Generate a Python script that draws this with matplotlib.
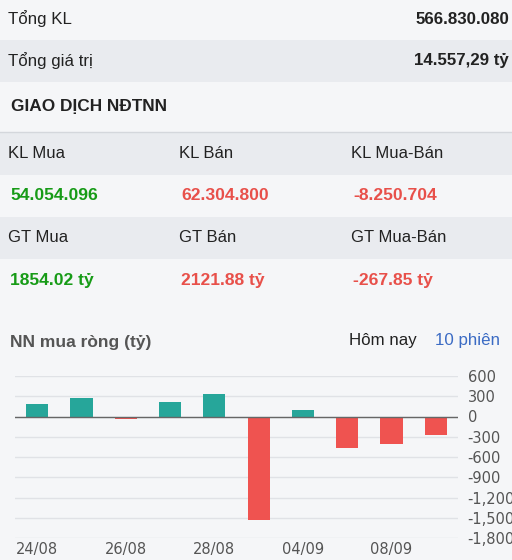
import numpy as np
import matplotlib
matplotlib.use('Agg')
import matplotlib.pyplot as plt
from matplotlib.patches import Rectangle

plt.rcParams['font.family'] = ['Liberation Sans', 'DejaVu Sans']

# Summary values.
total_labels = ['Tổng KL', 'Tổng giá trị']
total_values = ['566.830.080', '14.557,29 tỷ']

# Foreign investor table.
kl_headers = ['KL Mua', 'KL Bán', 'KL Mua-Bán']
kl_values = ['54.054.096', '62.304.800', '-8.250.704']
gt_headers = ['GT Mua', 'GT Bán', 'GT Mua-Bán']
gt_values = ['1854.02 tỷ', '2121.88 tỷ', '-267.85 tỷ']

# Net buy per session (billion VND).
sessions = ['24/08', '25/08', '26/08', '27/08', '28/08', '03/09', '04/09', '07/09', '08/09', '09/09']
net_buy = [178, 278, -40, 212, 327, -1535, 100, -465, -406, -267.85]
y_ticks = [600, 300, 0, -300, -600, -900, -1200, -1500, -1800]

W, H = 512, 560
bg = '#f5f6f8'
row_gray = '#e9ebef'
green = '#179b17'
red = '#e8504a'
dark = '#222222'

fig = plt.figure(figsize=(W / 100, H / 100), dpi=100)
fig.patch.set_facecolor(bg)

# Background layer in pixel coordinates.
base = fig.add_axes([0, 0, 1, 1])
base.set_xlim(0, W)
base.set_ylim(H, 0)
base.axis('off')

for y0, y1 in [(40, 82), (132, 175), (217, 259)]:
	base.add_patch(Rectangle((0, y0), W, y1 - y0, color=row_gray, lw=0))
base.plot([0, W], [132, 132], color='#d4d7dc', lw=1)

for i in range(len(total_labels)):
	yc = 19 + i * 42
	base.text(8, yc, total_labels[i], fontsize=12.2, color=dark, va='center')
	base.text(509, yc, total_values[i], fontsize=12.2, color=dark, va='center', ha='right', weight='bold')

base.text(11, 106, 'GIAO DỊCH NĐTNN', fontsize=12.4, color=dark, va='center', weight='bold')

col_x = [8, 179, 351]
for j in range(3):
	base.text(col_x[j], 153, kl_headers[j], fontsize=12, color=dark, va='center')
	base.text(col_x[j] + 2, 196, kl_values[j], fontsize=12.6, va='center', weight='bold',
			  color=green if j == 0 else red)
	base.text(col_x[j], 238, gt_headers[j], fontsize=12, color=dark, va='center')
	base.text(col_x[j] + 2, 281, gt_values[j], fontsize=12.6, va='center', weight='bold',
			  color=green if j == 0 else red)

base.text(10, 342, 'NN mua ròng (tỷ)', fontsize=12.5, color='#555555', va='center', weight='bold')
base.text(349, 341, 'Hôm nay', fontsize=12.2, color=dark, va='center')
base.text(435, 341, '10 phiên', fontsize=12.2, color='#3b6bc4', va='center')

# Bar chart.
top, bottom = 376, 538
ax = fig.add_axes([15 / W, (H - bottom) / H, 443 / W, (bottom - top) / H])
ax.set_facecolor(bg)
x = np.arange(len(sessions))
colors = ['#26a69a' if v >= 0 else '#ef5350' for v in net_buy]
ax.bar(x, net_buy, width=0.5, color=colors, zorder=3)
ax.set_xlim(-0.5, len(sessions) - 0.5)
ax.set_ylim(-1800, 600)
ax.set_yticks(y_ticks)
ax.set_yticklabels(['{:,}'.format(t) for t in y_ticks])
ax.yaxis.tick_right()
ax.grid(axis='y', color='#e0e2e6', lw=1, zorder=0)
ax.axhline(0, color='#666666', lw=1, zorder=4)
ax.set_xticks(x[::2])
ax.set_xticklabels(sessions[::2])
for s in ax.spines.values():
	s.set_visible(False)
ax.tick_params(axis='both', length=0, labelsize=11, labelcolor='#555555')
ax.tick_params(axis='y', pad=7)
ax.tick_params(axis='x', pad=3)
for lbl in ax.get_xticklabels() + ax.get_yticklabels():
	lbl.set_family(['DejaVu Sans'])
	lbl.set_fontsize(10.5)

fig.savefig('out.png', dpi=100, facecolor=bg)
